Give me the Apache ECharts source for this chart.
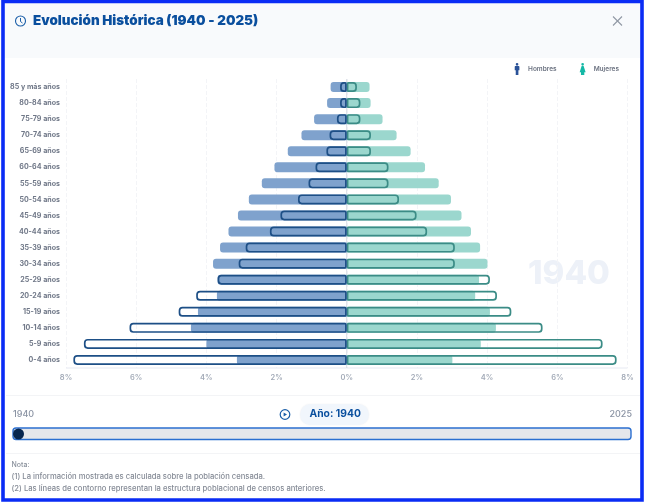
<!DOCTYPE html>
<html><head><meta charset="utf-8">
<style>html,body{margin:0;padding:0;background:#fff}#c{width:645px;height:503px}</style>
<script src="https://cdn.jsdelivr.net/npm/echarts@6/dist/echarts.min.js"></script>
</head><body><div id="c"></div>
<script>
const categories=['0-4 años','5-9 años','10-14 años','15-19 años','20-24 años','25-29 años','30-34 años','35-39 años','40-44 años','45-49 años','50-54 años','55-59 años','60-64 años','65-69 años','70-74 años','75-79 años','80-84 años','85 y más años'];
const hombres2025=[3.13,4.00,4.44,4.24,3.70,3.68,3.81,3.61,3.37,3.10,2.79,2.42,2.06,1.68,1.29,0.93,0.56,0.46];
const mujeres2025=[3.01,3.82,4.25,4.08,3.66,3.77,4.01,3.80,3.54,3.27,2.97,2.62,2.23,1.82,1.42,1.02,0.68,0.65];
const hombres1940=[7.79,7.49,6.19,4.79,4.29,3.68,3.08,2.88,2.19,1.89,1.39,1.09,0.89,0.58,0.49,0.28,0.19,0.19];
const mujeres1940=[7.69,7.29,5.58,4.69,4.28,4.08,3.08,3.08,2.29,1.99,1.49,1.19,1.19,0.69,0.69,0.39,0.39,0.29];
const neg=a=>a.map(v=>-v);
const F='Inter, sans-serif';
const manPath='path://M10,0a4,4 0 1,1 -0.01,0zM5,9h10a2,2 0 0 1 2,2v11h-3v14h-8v-14h-3v-11a2,2 0 0 1 2,-2z';
const womanPath='path://M10,0a4,4 0 1,1 -0.01,0zM7,9h6l6,19h-4v8h-10v-8h-4z';
const chart=echarts.init(document.getElementById('c'),null,{renderer:'canvas'});
const bar=(name,data,color,radius,extra)=>({name,type:'bar',data,barWidth:10,barGap:'-100%',itemStyle:Object.assign({color,borderRadius:radius},extra||{}),emphasis:{disabled:true},silent:true,animation:false});
chart.setOption({
 animation:false,
 backgroundColor:'#fff',
 legend:{top:58,right:21,itemWidth:8,itemHeight:12,itemGap:23,icon:'rect',selectedMode:false,
  textStyle:{fontFamily:F,fontSize:6.5,fontWeight:600,color:'#6b7280',padding:[0,0,0,2]},
  data:[{name:'Hombres',icon:manPath,itemStyle:{color:'#2a5298'}},{name:'Mujeres',icon:womanPath,itemStyle:{color:'#14b8a6'}}]},
 grid:{left:66,right:17.5,top:79,bottom:135},
 xAxis:{type:'value',min:-8,max:8,interval:2,
  axisLine:{show:false},axisTick:{show:false},
  splitLine:{show:true,lineStyle:{color:'#f3f4f7',type:'dashed',width:1}},
  axisLabel:{margin:6,fontFamily:F,fontSize:7.5,fontWeight:600,color:'#a3abb8',formatter:v=>Math.abs(v)+'%'}},
 yAxis:{type:'category',data:categories,
  axisLine:{show:false},axisTick:{show:false},
  axisLabel:{margin:6,fontFamily:F,fontSize:7.1,fontWeight:700,color:'#707888',interval:0}},
 series:[
  bar('Hombres',neg(hombres2025),'#7fa2cd',[3,0,0,3]),
  bar('Mujeres',mujeres2025,'#9bd7ce',[0,3,3,0]),
  bar('Mujeres contorno',mujeres1940,'rgba(0,0,0,0)',[1,3,3,1],{borderColor:'#3b8c86',borderWidth:1.7}),
  bar('Hombres contorno',neg(hombres1940),'rgba(0,0,0,0)',[3,1,1,3],{borderColor:'#1d4f86',borderWidth:1.7})
 ],
 graphic:[
  {type:'rect',z:-10,shape:{x:3,y:2,width:639,height:56},style:{fill:'#f8fafc'}},
  {type:'text',z:-5,x:528,y:258,style:{text:'1940',font:'800 33px '+F,fill:'#edf1f8'}},
  {type:'line',z:1,shape:{x1:66,y1:368,x2:627.5,y2:368},style:{stroke:'#e6e9f2',lineWidth:1}},
  {type:'line',z:1,shape:{x1:346.7,y1:79,x2:346.7,y2:368},style:{stroke:'#d9dde5',lineWidth:1}},
  {type:'text',x:33,y:14,style:{text:'Evolución Histórica (1940 - 2025)',font:'900 13.4px '+F,fill:'#0a4f9e'}},
  {type:'circle',shape:{cx:20.5,cy:21,r:5},style:{fill:'none',stroke:'#1a5ea8',lineWidth:1.1}},
  {type:'polyline',shape:{points:[[20.5,18],[20.5,21.5],[22.5,23]]},style:{fill:'none',stroke:'#1a5ea8',lineWidth:1}},
  {type:'line',shape:{x1:613,y1:16.5,x2:622,y2:25.5},style:{stroke:'#8f98a3',lineWidth:1.1}},
  {type:'line',shape:{x1:622,y1:16.5,x2:613,y2:25.5},style:{stroke:'#8f98a3',lineWidth:1.1}},
  {type:'line',shape:{x1:6,y1:395.5,x2:640,y2:395.5},style:{stroke:'#f3f4f6',lineWidth:1}},
  {type:'text',x:13,y:410,style:{text:'1940',font:'500 9px '+F,fill:'#8a93a3'}},
  {type:'text',x:609.5,y:410,style:{text:'2025',font:'500 9px '+F,fill:'#8a93a3'}},
  {type:'circle',shape:{cx:285,cy:414.5,r:4.8},style:{fill:'#fff',stroke:'#1a5ea8',lineWidth:1.2}},
  {type:'polygon',shape:{points:[[283.6,412.4],[283.6,416.6],[287,414.5]]},style:{fill:'#1a5ea8'}},
  {type:'rect',shape:{x:300,y:404,width:69,height:21,r:10.5},style:{fill:'#f1f6fc',shadowBlur:2,shadowColor:'rgba(0,0,0,0.06)'}},
  {type:'text',x:309.5,y:409,style:{text:'Año: 1940',font:'700 10.3px '+F,fill:'#0a4f9e'}},
  {type:'rect',shape:{x:13,y:428,width:618,height:11.5,r:3},style:{fill:'#e5e7eb',stroke:'#2b6fd0',lineWidth:1.4}},
  {type:'circle',shape:{cx:18.5,cy:434,r:5.5},style:{fill:'#06264f'}},
  {type:'line',shape:{x1:6,y1:453.5,x2:640,y2:453.5},style:{stroke:'#f3f4f6',lineWidth:1}},
  {type:'text',x:11.5,y:461.5,style:{text:'Nota:',font:'500 7px '+F,fill:'#8a919c'}},
  {type:'text',x:11.5,y:473,style:{text:'(1) La información mostrada es calculada sobre la población censada.',font:'500 7.65px '+F,fill:'#858b96'}},
  {type:'text',x:11.5,y:485,style:{text:'(2) Las líneas de contorno representan la estructura poblacional de censos anteriores.',font:'500 7.65px '+F,fill:'#858b96'}},
  {type:'rect',z:50,shape:{x:3,y:1.5,width:639,height:498.5},style:{fill:'none',stroke:'#0a2cf5',lineWidth:3.6}}
 ]
});
</script></body></html>
